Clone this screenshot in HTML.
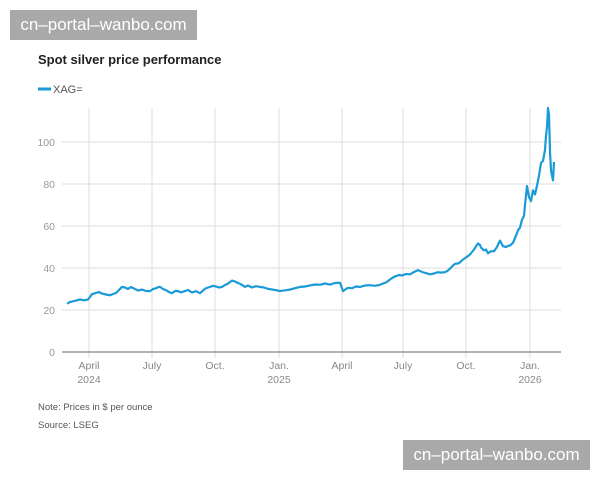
<!DOCTYPE html><html><head><style>
body{margin:0;width:600px;height:480px;background:#fff;position:relative;font-family:"Liberation Sans",sans-serif;overflow:hidden}
.wm{position:absolute;background:#a9a9a9;color:#fff;font-size:17px;line-height:30px;height:30px;width:187px;text-align:center;white-space:nowrap;overflow:hidden}
</style></head><body>
<svg width="600" height="480" style="position:absolute;left:0;top:0" font-family="Liberation Sans, sans-serif">
<text x="38" y="64" font-size="13" font-weight="bold" fill="#222">Spot silver price performance</text>
<line x1="38" y1="89" x2="51" y2="89" stroke="#1a9ad6" stroke-width="3"/>
<text x="53" y="93" font-size="11" fill="#555">XAG=</text>
<g stroke="#ddd" stroke-width="1">
<line x1="62" y1="310" x2="561" y2="310"/><line x1="62" y1="268" x2="561" y2="268"/>
<line x1="62" y1="226" x2="561" y2="226"/><line x1="62" y1="184" x2="561" y2="184"/>
<line x1="62" y1="142" x2="561" y2="142"/>
<line x1="89" y1="108" x2="89" y2="358"/><line x1="152" y1="108" x2="152" y2="358"/>
<line x1="215" y1="108" x2="215" y2="358"/><line x1="279" y1="108" x2="279" y2="358"/>
<line x1="342" y1="108" x2="342" y2="358"/><line x1="403" y1="108" x2="403" y2="358"/>
<line x1="466" y1="108" x2="466" y2="358"/><line x1="530" y1="108" x2="530" y2="358"/>
</g>
<line x1="62" y1="352" x2="561" y2="352" stroke="#666" stroke-width="1"/>
<g font-size="10.5" fill="#999" text-anchor="end">
<text x="55" y="356">0</text><text x="55" y="314">20</text><text x="55" y="272">40</text>
<text x="55" y="230">60</text><text x="55" y="188">80</text><text x="55" y="146">100</text>
</g>
<g font-size="10.5" fill="#888" text-anchor="middle">
<text x="89" y="369">April</text><text x="89" y="383">2024</text>
<text x="152" y="369">July</text><text x="215" y="369">Oct.</text>
<text x="279" y="369">Jan.</text><text x="279" y="383">2025</text>
<text x="342" y="369">April</text><text x="403" y="369">July</text>
<text x="466" y="369">Oct.</text><text x="530" y="369">Jan.</text><text x="530" y="383">2026</text>
</g>
<polyline fill="none" stroke="#1a9ad6" stroke-width="2.2" stroke-linejoin="round" points="
67,303.7 70,302 72,301.6 76,300.5 80,299.5 84,300.3 88,299.5 92,294.2 95,293.2 99,292 102,293.6 106,294.5 110,295.3 113,294 116,293 119,290 122,286.9 125,287.5 128,289 131,287 135,289 138,290.5 142,289.6 146,291 150,291.1 153,289 155,288.6 158,287.2 160,286.9 163,289 166,290.2 169,292 172,293.2 175,291 178,291.1 181,292.3 185,291.1 188,290 192,292.4 196,291.2 200,293.2 203,290.5 205,288.8 208,287.5 210,286.9 213,285.8 216,286.5 219,287.5 222,286.9 225,285 228,283.6 230,282 232,280.6 235,281.5 238,283 241,284.3 245,286.9 248,285.5 252,287.5 256,286.2 260,286.9 264,287.5 268,288.8 272,289.5 276,290.2 280,291.1 285,290.3 290,289.6 295,288.2 300,286.9 305,286.5 310,285.4 315,284.5 320,284.8 325,283.5 330,284.6 335,283 340,282.7 343,291.1 346,289 348,287.8 352,288.2 356,286.5 360,286.9 365,285.5 370,285.2 375,285.8 380,284.8 383,283.5 386,282.5 390,279.5 393,277.5 395,276.4 399,275 402,275.5 406,274 410,274.3 414,272 418,270.1 421,271.5 424,272.6 427,273.4 430,274.3 434,273.5 438,272.2 441,272.6 445,272.2 448,270.5 450,268.6 453,265.5 455,263.8 458,263.5 460,262.3 463,259.5 466,257.5 468,256 470,254.5 472,252 474,249.5 476,246.4 478,243.4 480,245 481,247.6 484,250.4 486,249.5 488,253.3 491,251.2 494,251.2 497,247 499,242.5 500,240.7 503,246.2 506,247 508,245.8 510,245.5 513,242.8 516,235.6 518,230.2 520,227.7 522,219.7 524,215.9 525,205 527,186.1 529,197.1 531,201.1 533,190.3 535,194.5 537,185.7 539,175.6 541,163 543,160.9 545,150 546,135.7 547,127.3 548,108 549,114.7 550,152 551,170.3 552,175.6 553,180.4 554,162"/>
<text x="38" y="410" font-size="9.5" fill="#555">Note: Prices in $ per ounce</text>
<text x="38" y="428" font-size="9.5" fill="#555">Source: LSEG</text>
</svg>
<div class="wm" style="left:10px;top:10px">cn–portal–wanbo.com</div>
<div class="wm" style="left:403px;top:440px">cn–portal–wanbo.com</div>
</body></html>
